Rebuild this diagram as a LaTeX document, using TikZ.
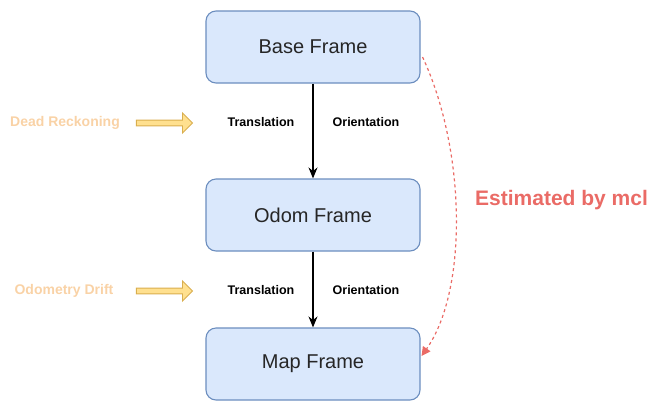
\documentclass[tikz,border=0pt]{standalone}
\usepackage{fontspec}
\setmainfont{Liberation Sans}
\usetikzlibrary{arrows.meta,shapes.arrows,calc}
\definecolor{boxfill}{HTML}{DAE8FC}
\definecolor{boxline}{HTML}{6C8EBF}
\definecolor{mclred}{HTML}{EA6B66}
\definecolor{noteorange}{HTML}{F9D2A6}
\definecolor{hollowfill}{HTML}{FFE08F}
\definecolor{hollowline}{HTML}{D9AE4E}
\tikzset{
  framebox/.style={draw=boxline, fill=boxfill, line width=1.1pt, rounded corners=10pt,
    minimum width=214pt, minimum height=72pt, inner sep=0pt,
    font=\fontsize{20}{24}\selectfont, text=black!85},
  flow/.style={draw=black, line width=1.2pt, -{Stealth[length=11pt,width=9pt]}},
  axislabel/.style={font=\bfseries\fontsize{12.5}{15}\selectfont, inner sep=0pt},
  sidenote/.style={font=\bfseries\fontsize{14}{16}\selectfont, text=noteorange, inner sep=0pt},
  hollow/.style={single arrow, draw=hollowline, fill=hollowfill, line width=0.9pt,
    minimum height=56pt, minimum width=15pt, inner xsep=0pt, inner ysep=2.4pt,
    single arrow tip angle=90},
  estimate/.style={draw=mclred, line width=1.2pt, dash pattern=on 3pt off 3pt,
    -{Triangle[length=9pt,width=9pt]}}
}
\begin{document}
\begin{tikzpicture}[x=1pt,y=-1pt]
  \useasboundingbox (0,0) rectangle (648,400);
  \clip (0,0) rectangle (648,400);

  % the three frames
  \node[framebox] (base) at (313,47) {Base Frame};
  \node[framebox] (odom) at (313,215) {Odom Frame};
  \node[framebox] (map)  at (313,364) {Map Frame};

  % transforms between frames
  \draw[flow] (base.south) -- (odom.north);
  \draw[flow] (odom.south) -- (map.north);

  \node[axislabel] (t1) at (261,122) {Translation};
  \node[axislabel] (o1) at (366,122) {Orientation};
  \node[axislabel] (t2) at (261,290) {Translation};
  \node[axislabel] (o2) at (366,290) {Orientation};

  % sources of each transform
  \node[sidenote] (dr) at (65,123) {Dead Reckoning};
  \node[hollow] (a1) at (163,123) {};
  \node[sidenote] (od) at (64,291) {Odometry Drift};
  \node[hollow] (a2) at (163,291) {};

  % map -> base estimate
  \coordinate (estart) at ($(base.east)+(2,10)$);
  \coordinate (eend) at ($(map.east)+(1,-8)$);
  \draw[estimate] (estart) .. controls (466,150) and (468,290) .. (eend);
  \node[font=\bfseries\fontsize{21}{25}\selectfont, text=mclred, anchor=base west, inner sep=0pt]
    (mcl) at (475,205) {Estimated by mcl};
\end{tikzpicture}
\end{document}
